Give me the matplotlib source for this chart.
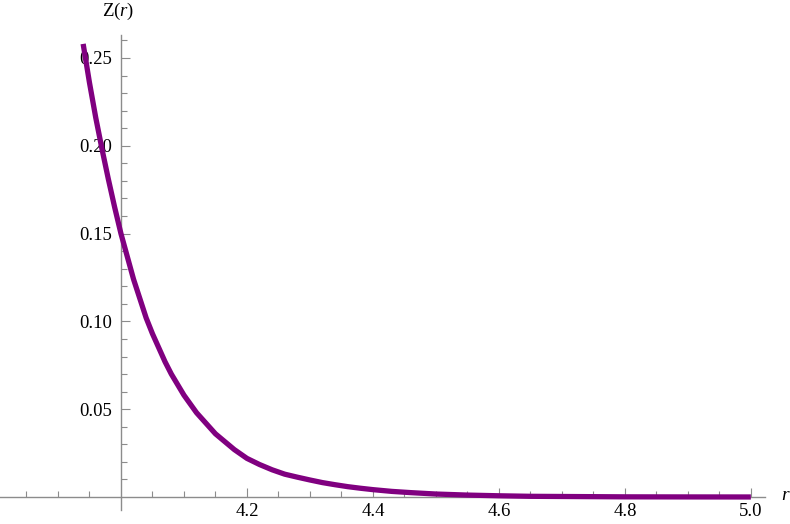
import matplotlib
matplotlib.use("Agg")
import matplotlib.pyplot as plt
from matplotlib.ticker import FixedLocator

# values
r_vals = [3.94, 3.95, 3.96, 3.97, 3.98, 3.99, 4.00, 4.01, 4.02, 4.03, 4.04, 4.05,
          4.06, 4.07, 4.08, 4.09, 4.10, 4.11, 4.12, 4.13, 4.14, 4.15, 4.16, 4.17,
          4.18, 4.19, 4.20, 4.22, 4.24, 4.26, 4.28, 4.30, 4.32, 4.34, 4.36, 4.38,
          4.40, 4.43, 4.46, 4.50, 4.55, 4.60, 4.65, 4.70, 4.80, 4.90, 5.00]
z_vals = [0.258, 0.236, 0.216, 0.198, 0.181, 0.165, 0.150, 0.137, 0.124, 0.113, 0.102, 0.093,
          0.085, 0.077, 0.070, 0.064, 0.058, 0.053, 0.048, 0.044, 0.040, 0.036, 0.033, 0.030,
          0.027, 0.0245, 0.022, 0.0185, 0.0155, 0.013, 0.0113, 0.0097, 0.0082, 0.0070, 0.0059, 0.0050,
          0.0042, 0.0032, 0.0025, 0.0017, 0.0011, 0.0007, 0.0004, 0.0003, 0.0001, 0.00005, 0.00002]

x_major = [4.2, 4.4, 4.6, 4.8, 5.0]
x_labels = ["4.2", "4.4", "4.6", "4.8", "5.0"]
x_minor = [3.85, 3.9, 3.95, 4.05, 4.1, 4.15, 4.25, 4.3, 4.35, 4.45, 4.5, 4.55,
           4.65, 4.7, 4.75, 4.85, 4.9, 4.95]
y_major = [0.05, 0.10, 0.15, 0.20, 0.25]
y_labels = ["0.05", "0.10", "0.15", "0.20", "0.25"]
y_minor = [0.01, 0.02, 0.03, 0.04, 0.06, 0.07, 0.08, 0.09, 0.11, 0.12, 0.13, 0.14,
           0.16, 0.17, 0.18, 0.19, 0.21, 0.22, 0.23, 0.24, 0.26]

plt.rcParams["font.family"] = ["Liberation Serif", "DejaVu Serif"]
plt.rcParams["mathtext.fontset"] = "custom"
plt.rcParams["mathtext.rm"] = "Liberation Serif"
plt.rcParams["mathtext.it"] = "Liberation Serif:italic"

axis_col = "#8c8c8c"

fig = plt.figure(figsize=(7.9, 5.24), dpi=100)
ax = fig.add_axes([0.0, 0.0267, 0.968, 0.9066])

ax.plot(r_vals, z_vals, color="#800080", linewidth=3.8, solid_capstyle="butt",
	solid_joinstyle="round", zorder=3)

ax.set_xlim(3.808, 5.022)
ax.set_ylim(-0.0074, 0.2631)

ax.spines["left"].set_position(("data", 4.0))
ax.spines["bottom"].set_position(("data", 0.0))
ax.spines["top"].set_visible(False)
ax.spines["right"].set_visible(False)
for s in ("left", "bottom"):
	ax.spines[s].set_color(axis_col)
	ax.spines[s].set_linewidth(1.0)

ax.xaxis.set_major_locator(FixedLocator(x_major))
ax.set_xticklabels(x_labels)
ax.xaxis.set_minor_locator(FixedLocator(x_minor))
ax.yaxis.set_major_locator(FixedLocator(y_major))
ax.set_yticklabels(y_labels)
ax.yaxis.set_minor_locator(FixedLocator(y_minor))

ax.tick_params(which="both", direction="in", color=axis_col, width=0.8,
	labelsize=13.5, labelcolor="black")
ax.tick_params(which="major", length=6.3)
ax.tick_params(which="minor", length=4.0)
ax.tick_params(axis="y", pad=6)
ax.tick_params(axis="x", pad=4)

fig.text(118 / 790, 1 - 11 / 524, "Z$(r)$", ha="center", va="center", fontsize=13.5)
fig.text(786 / 790, 1 - 496 / 524, "$r$", ha="center", va="center", fontsize=14)

fig.savefig("out.png", dpi=100)
